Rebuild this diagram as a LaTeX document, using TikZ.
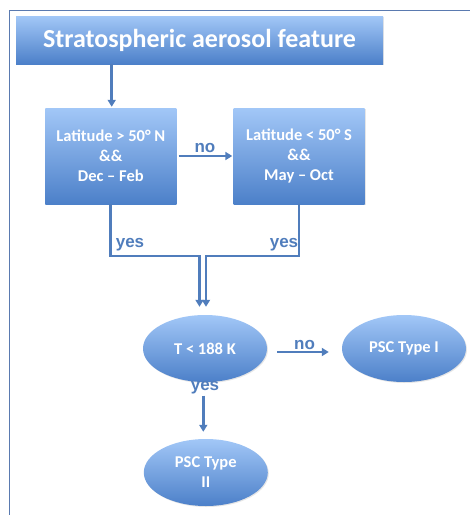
\documentclass[tikz,border=0pt]{standalone}
\usepackage{fontspec}
\setmainfont{Carlito}
\newfontfamily\tagfont{Liberation Sans}
\usetikzlibrary{arrows.meta,shapes.geometric,shadows}

\definecolor{shadetop}{RGB}{162,199,247}
\definecolor{shadebottom}{RGB}{76,128,201}
\definecolor{linkblue}{RGB}{80,125,188}
\definecolor{framecol}{RGB}{90,122,176}

\tikzset{
  titlebox/.style={rectangle, top color=shadetop, bottom color=shadebottom,
    text=white, font=\bfseries\fontsize{26}{28}\selectfont,
    minimum width=367pt, minimum height=48pt, inner sep=0pt,
    drop shadow={opacity=0.2, shadow xshift=1pt, shadow yshift=-1pt}},
  flowbox/.style={rectangle, top color=shadetop, bottom color=shadebottom,
    text=white, font=\bfseries\fontsize{16.5}{20}\selectfont, align=center,
    minimum width=131pt, minimum height=96pt, inner sep=0pt,
    drop shadow={opacity=0.2, shadow xshift=1pt, shadow yshift=-1pt}},
  decision/.style={ellipse, top color=shadetop, bottom color=shadebottom,
    text=white, font=\bfseries\fontsize{16.5}{20}\selectfont, align=center,
    minimum width=124pt, minimum height=67pt, inner sep=0pt,
    drop shadow={opacity=0.2, shadow xshift=1pt, shadow yshift=-1pt}},
  link/.style={draw=linkblue, line width=2.8pt,
    -{Triangle[length=7pt,width=8pt]}},
  tag/.style={text=linkblue, font=\tagfont\bfseries\fontsize{17}{18}\selectfont,
    inner sep=1pt}
}

\begin{document}
\begin{tikzpicture}[x=1pt,y=-1pt]
\useasboundingbox (0,0) rectangle (470,515);
\draw[framecol, line width=1pt] (9.3,515) -- (9.3,10) -- (470,10);

% boxes
\node[titlebox] (feature) at (199.5,40) {Stratospheric aerosol feature};
\node[flowbox] (north) at (110.8,156) {Latitude > 50° N\\\&\&\\Dec -- Feb};
\node[flowbox] (south) at (299,156) {Latitude < 50° S\\\&\&\\May -- Oct};

% ellipses
\node[decision] (temp) at (205,348.5) {T < 188 K};
\node[decision] (typeone) at (404,348.5) {PSC Type I};
\node[decision] (typetwo) at (205.8,472.5) {PSC Type\\II};

% merge points
\coordinate (joinN) at (199.5,256);
\coordinate (joinS) at (206,256);

% labels
\node[tag] (yesN) at (130,245) {yes};
\node[tag] (yesS) at (284,245) {yes};
\node[tag] (yesT) at (205,388) {yes};

% connectors
\draw[link, shorten >=1pt] (feature.south -| 111.7,0) -- (111.7,0 |- north.north);
\draw[link, shorten <=2pt, shorten >=1pt] (north) -- node[tag, above=1pt] (noN) {no} (south);
\draw[link, shorten >=8pt] (north.south) |- (joinN) -- (joinN |- temp.north);
\draw[link, shorten >=8pt] (south.south) |- (joinS) -- (joinS |- temp.north);
\draw[link, shorten <=10pt, shorten >=13pt] ([yshift=-3.5pt]temp.east) -- node[tag, above=0pt] (noT) {no} ([yshift=-3.5pt]typeone.west);
\draw[link, shorten >=7pt] (yesT.south -| 203.3,0) -- (203.3,0 |- typetwo.north);
\end{tikzpicture}
\end{document}
